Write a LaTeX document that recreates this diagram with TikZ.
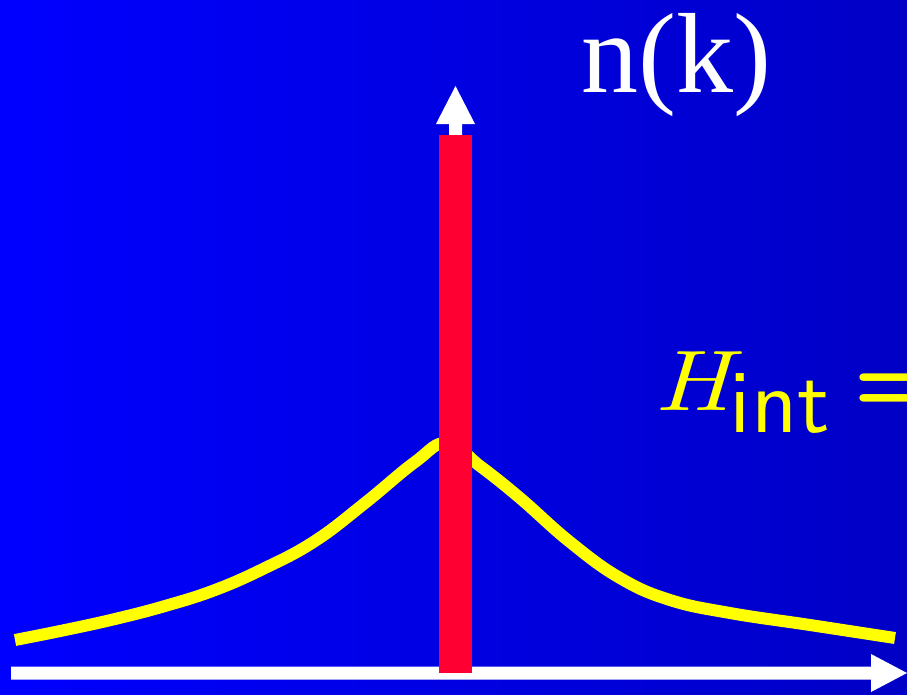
\documentclass[tikz,border=0pt]{standalone}
\usepackage{graphicx}
\usepackage{fontspec}
\newfontfamily\timesfont{Liberation Serif}
\newfontfamily\lmitten{lmroman10-italic.otf}
\newfontfamily\lmsansten{lmsans10-regular.otf}
\newfontfamily\lmsansbold{lmsans10-bold.otf}
\definecolor{bgleft}{RGB}{0,0,255}
\definecolor{bgright}{RGB}{0,0,198}
\definecolor{barred}{RGB}{255,0,51}
\definecolor{curveyellow}{RGB}{255,255,0}
\tikzset{
  axisfill/.style={fill=white, draw=none},
  lorentz/.style={draw=curveyellow, line width=12pt, line cap=butt, line join=round},
  peakbar/.style={fill=barred, draw=none},
}
\begin{document}
\begin{tikzpicture}[x=1pt,y=-1pt]
  \useasboundingbox (0,0) rectangle (907,694);
  \clip (0,0) rectangle (907,694);
  \shade[left color=bgleft, right color=bgright] (0,0) rectangle (907,694);
  % label n(k)
  \node[anchor=base west, inner sep=0pt, text=white, font=\timesfont\fontsize{114}{130}\selectfont] (nk) at (581,92) {n(k)};
  % label H_int =
  \node[anchor=base west, inner sep=0pt, text=curveyellow] (hint) at (654,410)
    {{\lmitten\fontsize{86}{100}\selectfont\scalebox{1.2}[1]{H}}\hspace{-1pt}\raisebox{-22pt}{\lmsansten\fontsize{90}{100}\selectfont int}\hspace{24pt}{\lmsansbold\fontsize{90}{100}\selectfont =}};
  % vertical axis arrow
  \fill[axisfill] (449,300) -- (449,124) -- (436,124) -- (455.5,86) -- (475,124) -- (462,124) -- (462,300) -- cycle;
  % horizontal axis arrow
  \fill[axisfill] (11,666.5) -- (871,666.5) -- (871,654) -- (907,673) -- (871,692) -- (871,679.5) -- (11,679.5) -- cycle;
  % Lorentzian curve
  \draw[lorentz] plot[smooth, tension=0.7] coordinates {
    (15,640) (65,630) (115,619) (165,606) (215,590) (265,568) (315,541) (365,503) (415,462) (447,443)
    (480,466) (520,498) (570,542) (620,578) (670,600) (730,613) (810,625) (895,638)};
  % delta peak
  \fill[peakbar] (439,135) rectangle (472,673);
\end{tikzpicture}
\end{document}
